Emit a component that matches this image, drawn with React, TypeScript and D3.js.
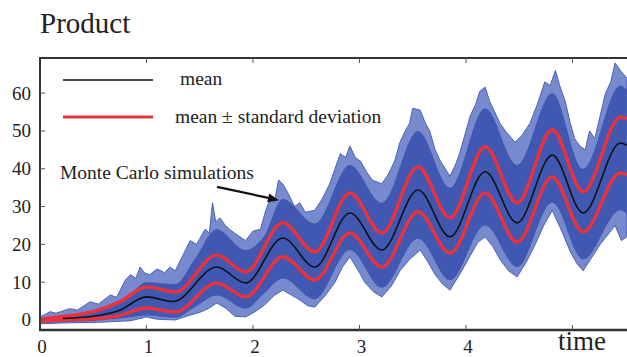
import { useEffect, useRef } from "react";
import * as d3 from "d3";

type Pt = [number, number];

// tick values
const yTicks = [0, 10, 20, 30, 40, 50, 60];
const xTicks = [1, 2, 3, 4, 5];
const xTickLabels = ["0", "1", "2", "3", "4"];

// mean curve (time, product)
const meanSeries: Pt[] = [
  [0.216, 0.4], [0.5, 1.0], [0.75, 2.6], [1.0, 6.1], [1.25, 4.9], [1.66, 14.0], [1.93, 9.8],
  [2.28, 21.7], [2.58, 14.0], [2.91, 28.3], [3.21, 18.5], [3.55, 34.4], [3.85, 22.0],
  [4.18, 39.2], [4.48, 25.7], [4.81, 43.6], [5.1, 28.3], [5.45, 46.8], [5.51, 46.2],
];

// mean + standard deviation
const upperSeries: Pt[] = [
  [0, 0.2], [0.216, 0.9], [0.5, 2.2], [0.75, 4.8], [1.0, 8.7], [1.27, 7.4], [1.66, 17.2],
  [1.93, 12.7], [2.28, 25.7], [2.58, 18.0], [2.91, 33.6], [3.21, 23.0], [3.55, 40.5],
  [3.85, 27.0], [4.18, 45.8], [4.48, 31.0], [4.81, 50.3], [5.1, 33.9], [5.45, 53.7], [5.51, 53.2],
];

// mean - standard deviation
const lowerSeries: Pt[] = [
  [0, -0.3], [0.216, 0.0], [0.5, 0.3], [0.75, 1.2], [1.0, 3.2], [1.27, 2.1], [1.66, 9.8],
  [1.93, 6.1], [2.28, 16.7], [2.58, 10.6], [2.91, 23.0], [3.21, 14.0], [3.55, 28.6],
  [3.85, 17.7], [4.18, 33.6], [4.48, 20.6], [4.81, 37.8], [5.1, 23.3], [5.45, 38.9], [5.51, 38.4],
];

// Monte Carlo envelope, outer strands (top / bottom)
const mcOuterTop: Pt[] = [
  [0, 0.8], [0.05, 1.5], [0.094, 2.2], [0.15, 1.8], [0.28, 3.0], [0.35, 2.6], [0.47, 4.8],
  [0.55, 4.2], [0.66, 6.6], [0.72, 6.0], [0.8, 10.5], [0.85, 12.0], [0.9, 11.0], [0.94, 14.0],
  [0.98, 12.5], [1.03, 12.0], [1.1, 13.5], [1.17, 12.5], [1.22, 14.0], [1.27, 13.0], [1.34, 17.0],
  [1.41, 21.0], [1.47, 20.0], [1.55, 24.0], [1.59, 23.0], [1.62, 31.0], [1.65, 26.0], [1.69, 27.0],
  [1.74, 25.0], [1.78, 24.0], [1.85, 22.5], [1.93, 21.0], [2.0, 23.5], [2.07, 24.0], [2.12, 29.0],
  [2.16, 32.0], [2.2, 31.0], [2.24, 37.0], [2.28, 36.0], [2.33, 33.5], [2.39, 30.0], [2.44, 31.0],
  [2.49, 28.5], [2.58, 29.0], [2.65, 32.0], [2.72, 36.0], [2.77, 40.0], [2.82, 44.0], [2.87, 43.0],
  [2.91, 46.0], [2.96, 43.0], [3.01, 42.0], [3.07, 39.0], [3.12, 37.0], [3.21, 36.0], [3.27, 38.5],
  [3.33, 42.0], [3.38, 47.0], [3.43, 50.0], [3.47, 52.0], [3.5, 56.0], [3.57, 55.5], [3.62, 52.0],
  [3.66, 50.0], [3.71, 45.0], [3.76, 42.0], [3.85, 38.0], [3.9, 41.0], [3.94, 44.0], [3.99, 49.0],
  [4.04, 54.0], [4.09, 57.0], [4.13, 60.5], [4.18, 61.6], [4.22, 58.0], [4.27, 55.0], [4.32, 52.0],
  [4.37, 50.0], [4.46, 47.0], [4.53, 49.0], [4.6, 52.0], [4.67, 57.0], [4.74, 63.0], [4.79, 62.0],
  [4.84, 66.0], [4.88, 62.0], [4.93, 58.0], [4.98, 52.0], [5.02, 48.0], [5.07, 46.0], [5.12, 45.0],
  [5.16, 50.0], [5.21, 48.0], [5.26, 54.0], [5.31, 60.0], [5.36, 63.0], [5.4, 68.0], [5.45, 66.0],
  [5.51, 64.0],
];
const mcOuterBottom: Pt[] = [
  [0, -1.0], [0.19, -0.8], [0.56, -0.6], [0.85, -0.2], [1.0, 0.8], [1.1, 0.2], [1.27, 0.0],
  [1.4, 1.2], [1.5, 2.0], [1.58, 3.0], [1.66, 4.5], [1.74, 3.2], [1.83, 1.0], [1.93, 0.8],
  [2.02, 2.2], [2.11, 4.0], [2.2, 6.5], [2.28, 7.9], [2.36, 6.6], [2.44, 5.3], [2.51, 3.8],
  [2.58, 3.4], [2.68, 6.5], [2.77, 10.0], [2.84, 14.0], [2.91, 16.7], [2.98, 13.5], [3.05, 10.0],
  [3.13, 7.5], [3.21, 6.1], [3.3, 9.0], [3.38, 13.0], [3.47, 16.0], [3.57, 18.5], [3.64, 15.5],
  [3.71, 12.0], [3.78, 9.5], [3.85, 7.9], [3.95, 12.5], [4.04, 17.0], [4.11, 20.5], [4.18, 22.0],
  [4.25, 19.5], [4.32, 16.0], [4.4, 13.0], [4.48, 11.4], [4.57, 15.5], [4.65, 20.0], [4.73, 25.0],
  [4.81, 29.0], [4.9, 23.5], [4.98, 18.0], [5.04, 15.0], [5.1, 13.0], [5.18, 16.5], [5.26, 20.0],
  [5.33, 22.5], [5.4, 25.0], [5.46, 21.0], [5.51, 22.0],
];

// dense core of the simulations
const mcCoreTop: Pt[] = [
  [0, 0.3], [0.3, 1.5], [0.6, 3.0], [0.85, 7.0], [1.0, 10.0], [1.27, 9.5], [1.45, 16.0],
  [1.66, 24.0], [1.93, 18.5], [2.1, 22.0], [2.28, 32.0], [2.58, 25.5], [2.91, 41.0], [3.21, 31.0],
  [3.55, 50.0], [3.85, 35.0], [4.18, 56.0], [4.48, 41.0], [4.81, 60.0], [5.1, 40.0], [5.45, 62.0],
  [5.51, 61.0],
];
const mcCoreBottom: Pt[] = [
  [0, -0.8], [0.5, -0.3], [1.0, 1.2], [1.27, 0.6], [1.66, 6.5], [1.93, 3.0], [2.28, 11.0],
  [2.58, 5.5], [2.91, 18.5], [3.21, 8.5], [3.55, 21.5], [3.85, 10.5], [4.18, 25.0], [4.48, 14.0],
  [4.81, 31.0], [5.1, 16.0], [5.45, 29.0], [5.51, 28.0],
];

const W = 627;
const H = 357;
const FONT = "'Liberation Serif', 'Times New Roman', serif";

const App = () => {
  const svgRef = useRef<SVGSVGElement>(null);

  useEffect(() => {
    if (!svgRef.current) return;
    const svg = d3.select(svgRef.current);
    svg.selectAll("*").remove();

    const left = 40, right = 627, top = 58, bottom = 330;
    const x = d3.scaleLinear().domain([0, 5.512]).range([left, right]);
    const y = d3.scaleLinear().domain([-2.65, 69.3]).range([bottom, top]);

    svg
      .append("defs")
      .append("clipPath")
      .attr("id", "plot-clip")
      .append("rect")
      .attr("x", left)
      .attr("y", top)
      .attr("width", right - left)
      .attr("height", bottom - top);

    const g = svg.append("g").attr("clip-path", "url(#plot-clip)");

    // merge top/bottom envelopes into band rows
    const band = (topPts: Pt[], botPts: Pt[]) => {
      const ts = Array.from(new Set([...topPts.map((d) => d[0]), ...botPts.map((d) => d[0])])).sort((a, b) => a - b);
      const lerp = (pts: Pt[], t: number) => {
        const i = d3.bisector((d: Pt) => d[0]).left(pts, t);
        if (i <= 0) return pts[0][1];
        if (i >= pts.length) return pts[pts.length - 1][1];
        const [t0, v0] = pts[i - 1];
        const [t1, v1] = pts[i];
        return v0 + ((t - t0) / (t1 - t0)) * (v1 - v0);
      };
      return ts.map((t) => ({ t, hi: lerp(topPts, t), lo: lerp(botPts, t) }));
    };

    const outerArea = d3
      .area<{ t: number; hi: number; lo: number }>()
      .x((d) => x(d.t))
      .y0((d) => y(d.lo))
      .y1((d) => y(d.hi));

    g.append("path")
      .datum(band(mcOuterTop, mcOuterBottom))
      .attr("fill", "#6075c6")
      .attr("fill-opacity", 0.85)
      .attr("stroke", "#4a60b8")
      .attr("stroke-width", 1)
      .attr("stroke-linejoin", "bevel")
      .attr("d", outerArea);

    const coreArea = d3
      .area<{ t: number; hi: number; lo: number }>()
      .curve(d3.curveMonotoneX)
      .x((d) => x(d.t))
      .y0((d) => y(d.lo))
      .y1((d) => y(d.hi));

    g.append("path")
      .datum(band(mcCoreTop, mcCoreBottom))
      .attr("fill", "#4058b2")
      .attr("d", coreArea);

    const line = d3
      .line<Pt>()
      .curve(d3.curveMonotoneX)
      .x((d) => x(d[0]))
      .y((d) => y(d[1]));

    [upperSeries, lowerSeries].forEach((s) => {
      g.append("path")
        .datum(s)
        .attr("fill", "none")
        .attr("stroke", "#e8333c")
        .attr("stroke-width", 3.5)
        .attr("stroke-linejoin", "round")
        .attr("d", line);
    });

    g.append("path")
      .datum(meanSeries)
      .attr("fill", "none")
      .attr("stroke", "#111")
      .attr("stroke-width", 1.6)
      .attr("d", line);

    // frame
    const frame = svg.append("g").attr("stroke", "#333").attr("stroke-width", 2);
    frame.append("line").attr("x1", left).attr("x2", right).attr("y1", top).attr("y2", top);
    frame.append("line").attr("x1", left).attr("x2", left).attr("y1", top - 1).attr("y2", bottom + 1);
    frame.append("line").attr("x1", left - 1).attr("x2", right).attr("y1", bottom).attr("y2", bottom).attr("stroke-width", 2.5);

    // inward ticks
    const ticks = svg.append("g").attr("stroke", "#555").attr("stroke-width", 1);
    yTicks.forEach((v) => {
      ticks.append("line").attr("x1", left).attr("x2", left + 5).attr("y1", y(v)).attr("y2", y(v));
    });
    xTicks.forEach((t) => {
      ticks.append("line").attr("x1", x(t)).attr("x2", x(t)).attr("y1", bottom).attr("y2", bottom - 5);
      ticks.append("line").attr("x1", x(t)).attr("x2", x(t)).attr("y1", top).attr("y2", top + 5);
    });

    const labels = svg.append("g").attr("font-family", FONT).attr("fill", "#222");
    yTicks.forEach((v) => {
      labels
        .append("text")
        .attr("x", left - 9)
        .attr("y", y(v) + 6.5)
        .attr("text-anchor", "end")
        .attr("font-size", 19)
        .text(String(v));
    });
    xTickLabels.forEach((s, i) => {
      labels
        .append("text")
        .attr("x", x(i) + 2)
        .attr("y", 353)
        .attr("text-anchor", "middle")
        .attr("font-size", 19)
        .text(s);
    });
    labels.append("text").attr("x", 582).attr("y", 350).attr("text-anchor", "middle").attr("font-size", 27).text("time");
    labels.append("text").attr("x", 40).attr("y", 33).attr("font-size", 29).text("Product");

    // legend
    const legend = svg.append("g").attr("font-family", FONT).attr("fill", "#222");
    legend.append("line").attr("x1", 63).attr("x2", 153).attr("y1", 80).attr("y2", 80).attr("stroke", "#111").attr("stroke-width", 1.6);
    legend.append("text").attr("x", 180).attr("y", 85).attr("font-size", 19.5).text("mean");
    legend.append("line").attr("x1", 63).attr("x2", 153).attr("y1", 117).attr("y2", 117).attr("stroke", "#e8333c").attr("stroke-width", 3);
    legend.append("text").attr("x", 175).attr("y", 123).attr("font-size", 19.5).text("mean \u00b1 standard deviation");

    // annotation with arrow
    svg.append("text").attr("x", 60).attr("y", 179).attr("font-family", FONT).attr("font-size", 19.5).attr("fill", "#222").text("Monte Carlo simulations");
    const tail: Pt = [1.662, 35.2];
    const tip: Pt = [2.244, 31.7];
    const x0 = x(tail[0]), y0 = y(tail[1]), x1 = x(tip[0]), y1 = y(tip[1]);
    const ang = Math.atan2(y1 - y0, x1 - x0);
    const hl = 11, hw = 4.5;
    const bx = x1 - hl * Math.cos(ang), by = y1 - hl * Math.sin(ang);
    svg.append("line").attr("x1", x0).attr("y1", y0).attr("x2", bx).attr("y2", by).attr("stroke", "#111").attr("stroke-width", 2.2);
    svg
      .append("path")
      .attr("fill", "#111")
      .attr(
        "d",
        `M${x1},${y1}L${bx - hw * Math.sin(ang)},${by + hw * Math.cos(ang)}L${bx + hw * Math.sin(ang)},${by - hw * Math.cos(ang)}Z`
      );
  }, []);

  return (
    <div style={{ position: "absolute", left: 0, top: 0, width: W, height: H, background: "#fff" }}>
      <svg ref={svgRef} width={W} height={H} />
    </div>
  );
};

export default App;
